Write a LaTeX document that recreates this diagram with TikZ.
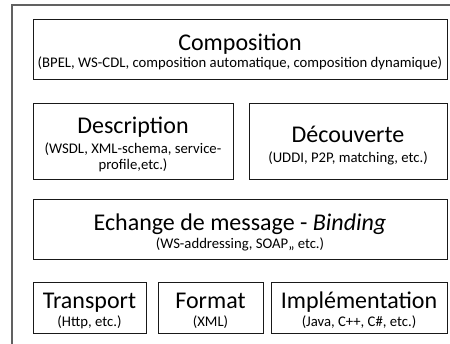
\documentclass[tikz,border=0pt]{standalone}
\usepackage{fontspec}
\setmainfont{Carlito}
\begin{document}
\begin{tikzpicture}[x=1pt,y=-1pt,
  box/.style={draw=black!90, line width=1.1pt, inner sep=0pt, anchor=north west},
  frame/.style={draw=black!62, line width=1.6pt},
  ttl/.style={font=\fontsize{24}{28}\selectfont, anchor=base, inner sep=0pt},
  sub/.style={font=\fontsize{14.7}{16.5}\selectfont, anchor=base, inner sep=0pt, align=center}]
\useasboundingbox (0,0) rectangle (450,344);
\draw[frame] (12,360) -- (12,5) -- (470,5);
% boxes
\node[box, minimum width=414pt, minimum height=60pt] (comp) at (33,19) {};
\node[box, minimum width=200pt, minimum height=76pt] (desc) at (33,103) {};
\node[box, minimum width=198pt, minimum height=76pt] (dec) at (249,103) {};
\node[box, minimum width=414pt, minimum height=60pt] (ech) at (33,199) {};
\node[box, minimum width=113pt, minimum height=51pt] (trans) at (33,282) {};
\node[box, minimum width=105pt, minimum height=51pt] (fmt) at (158,282) {};
\node[box, minimum width=176pt, minimum height=51pt] (impl) at (271,282) {};
% texts
\node[ttl] (compT) at (240,51) {Composition};
\node[sub] (compS) at (240,68) {(BPEL, WS-CDL, composition automatique, composition dynamique)};
\node[ttl] (descT) at (133,134) {Description};
\node[sub] (descS) at (133,170) {(WSDL, XML-schema, service-\\profile,etc.)};
\node[ttl] (decT) at (348,143) {Découverte};
\node[sub] (decS) at (348,163) {(UDDI, P2P, matching, etc.)};
\node[ttl] (echT) at (240,231) {Echange de message - \textit{Binding}};
\node[sub] (echS) at (240,249) {(WS-addressing, SOAP,, etc.)};
\node[ttl] (transT) at (89.5,309) {Transport};
\node[sub] (transS) at (89.5,327) {(Http, etc.)};
\node[ttl] (fmtT) at (210.5,309) {Format};
\node[sub] (fmtS) at (210.5,327) {(XML)};
\node[ttl] (implT) at (359,309) {Implémentation};
\node[sub] (implS) at (359,327) {(Java, C++, C\#, etc.)};
\end{tikzpicture}
\end{document}
